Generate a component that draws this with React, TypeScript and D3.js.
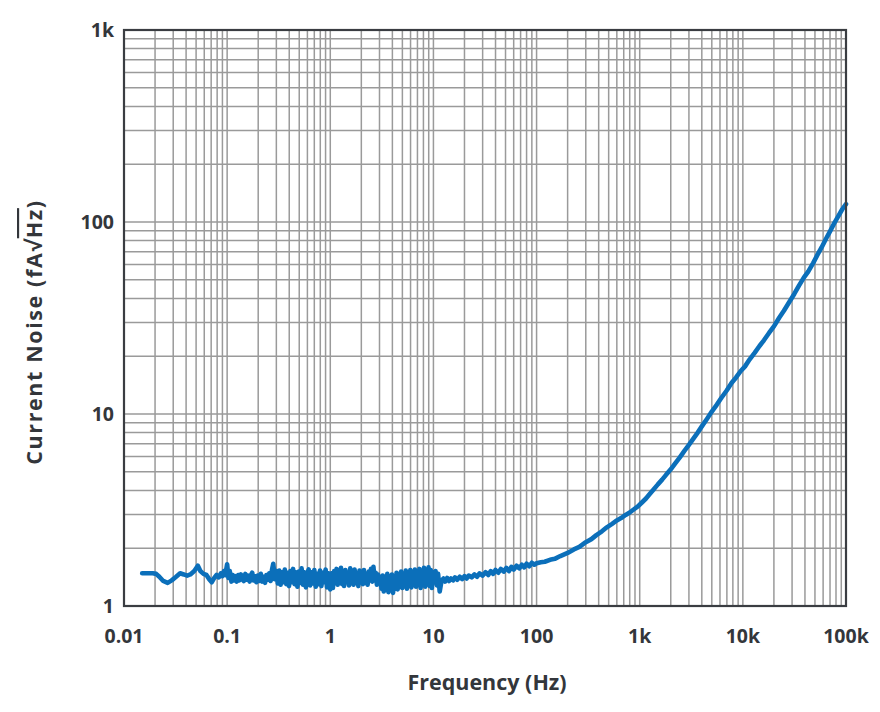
import { useEffect, useRef } from 'react';
import * as d3 from 'd3';

// 0.015 Hz .. 0.1 Hz
const lowFreq = [0.015, 0.017, 0.019, 0.0205, 0.022, 0.024, 0.0265, 0.029, 0.032, 0.035, 0.038, 0.041, 0.044, 0.048, 0.052, 0.055, 0.059, 0.063, 0.067, 0.071, 0.075, 0.079, 0.083, 0.087, 0.09, 0.093, 0.096];
const lowNoise = [1.48, 1.48, 1.48, 1.47, 1.42, 1.35, 1.32, 1.36, 1.42, 1.48, 1.46, 1.44, 1.46, 1.52, 1.62, 1.52, 1.47, 1.45, 1.38, 1.33, 1.40, 1.45, 1.41, 1.48, 1.43, 1.52, 1.45];

// 0.1 Hz .. 1 Hz
const decade1Freq = [0.1, 0.103, 0.106, 0.11, 0.113, 0.117, 0.12, 0.124, 0.128, 0.132, 0.136, 0.14, 0.145, 0.15, 0.155, 0.16, 0.165, 0.17, 0.175, 0.18, 0.186, 0.192, 0.198, 0.205, 0.212, 0.219, 0.226, 0.233, 0.24, 0.248, 0.256, 0.264, 0.272, 0.28, 0.29, 0.3, 0.31, 0.32, 0.33, 0.34, 0.35, 0.362, 0.374, 0.386, 0.398, 0.41, 0.423, 0.436, 0.45, 0.465, 0.48, 0.495, 0.51, 0.527, 0.544, 0.562, 0.58, 0.598, 0.617, 0.637, 0.657, 0.678, 0.7, 0.723, 0.746, 0.77, 0.795, 0.82, 0.846, 0.873, 0.901, 0.93, 0.96, 0.99];
const decade1Noise = [1.65, 1.4, 1.52, 1.34, 1.45, 1.36, 1.43, 1.34, 1.45, 1.36, 1.46, 1.38, 1.35, 1.47, 1.37, 1.44, 1.34, 1.45, 1.49, 1.36, 1.43, 1.33, 1.44, 1.35, 1.47, 1.34, 1.42, 1.32, 1.45, 1.37, 1.48, 1.35, 1.54, 1.66, 1.38, 1.52, 1.31, 1.53, 1.29, 1.5, 1.33, 1.55, 1.3, 1.49, 1.27, 1.52, 1.33, 1.56, 1.3, 1.5, 1.26, 1.51, 1.32, 1.57, 1.29, 1.5, 1.25, 1.47, 1.55, 1.28, 1.5, 1.31, 1.54, 1.26, 1.47, 1.3, 1.53, 1.27, 1.49, 1.33, 1.55, 1.25, 1.48, 1.29];

// 1 Hz .. 10 Hz
const decade2Freq = [1.0, 1.03, 1.06, 1.09, 1.12, 1.15, 1.18, 1.21, 1.24, 1.27, 1.3, 1.33, 1.36, 1.4, 1.44, 1.48, 1.52, 1.56, 1.6, 1.64, 1.68, 1.72, 1.77, 1.82, 1.87, 1.92, 1.97, 2.02, 2.07, 2.12, 2.18, 2.24, 2.3, 2.36, 2.42, 2.48, 2.55, 2.62, 2.69, 2.76, 2.83, 2.9, 2.98, 3.06, 3.14, 3.22, 3.3, 3.39, 3.48, 3.57, 3.66, 3.76, 3.86, 3.96, 4.06, 4.17, 4.28, 4.39, 4.5, 4.62, 4.74, 4.86, 4.99, 5.12, 5.25, 5.39, 5.53, 5.67, 5.82, 5.97, 6.12, 6.28, 6.44, 6.61, 6.78, 6.96, 7.14, 7.32, 7.51, 7.7, 7.9, 8.1, 8.31, 8.52, 8.74, 8.96, 9.19, 9.42, 9.66, 9.9];
const decade2Noise = [1.22, 1.48, 1.24, 1.52, 1.32, 1.56, 1.29, 1.5, 1.34, 1.58, 1.3, 1.51, 1.27, 1.54, 1.33, 1.49, 1.28, 1.57, 1.35, 1.52, 1.29, 1.55, 1.32, 1.48, 1.27, 1.53, 1.34, 1.5, 1.3, 1.54, 1.32, 1.47, 1.29, 1.51, 1.36, 1.56, 1.34, 1.6, 1.36, 1.49, 1.29, 1.46, 1.31, 1.42, 1.23, 1.44, 1.19, 1.42, 1.22, 1.47, 1.18, 1.4, 1.21, 1.46, 1.17, 1.42, 1.23, 1.49, 1.22, 1.44, 1.26, 1.51, 1.24, 1.47, 1.28, 1.53, 1.23, 1.48, 1.3, 1.54, 1.25, 1.5, 1.29, 1.55, 1.26, 1.49, 1.31, 1.56, 1.24, 1.51, 1.29, 1.58, 1.26, 1.53, 1.32, 1.59, 1.27, 1.54, 1.24, 1.5];

// 10 Hz .. 100 Hz
const decade3Freq = [10.2, 10.5, 10.8, 11.1, 11.5, 12, 12.5, 13, 13.6, 14.2, 14.8, 15.5, 16.2, 17, 18, 19, 20, 21, 22, 23.5, 25, 26.5, 28, 30, 32, 34, 36, 38, 40, 42.5, 45, 48, 51, 54, 57, 60, 64, 68, 72, 76, 80, 85, 90, 95];
const decade3Noise = [1.33, 1.52, 1.28, 1.47, 1.19, 1.36, 1.39, 1.34, 1.4, 1.35, 1.39, 1.36, 1.41, 1.37, 1.42, 1.38, 1.43, 1.39, 1.44, 1.41, 1.46, 1.42, 1.48, 1.44, 1.5, 1.45, 1.52, 1.47, 1.54, 1.49, 1.56, 1.51, 1.58, 1.52, 1.6, 1.55, 1.62, 1.57, 1.64, 1.59, 1.66, 1.61, 1.68, 1.64];

// 100 Hz .. 100 kHz
const riseFreq = [100, 110, 120, 135, 150, 170, 200, 230, 260, 300, 340, 380, 430, 480, 540, 600, 660, 730, 800, 880, 960, 1050, 1150, 1250, 1350, 1500, 1650, 1800, 2000, 2200, 2450, 2700, 3000, 3300, 3650, 4000, 4500, 5000, 5600, 6200, 7000, 7800, 8600, 9500, 10500, 11600, 13000, 14500, 16000, 18000, 20000, 22500, 25000, 28000, 31500, 35000, 39000, 43000, 48000, 53000, 58000, 64000, 70000, 77000, 84000, 92000, 100000];
const riseNoise = [1.67, 1.69, 1.7, 1.74, 1.76, 1.82, 1.89, 1.97, 2.03, 2.15, 2.23, 2.34, 2.45, 2.57, 2.68, 2.79, 2.87, 2.98, 3.07, 3.19, 3.3, 3.46, 3.63, 3.83, 4.02, 4.3, 4.55, 4.82, 5.15, 5.52, 5.95, 6.4, 6.9, 7.42, 8.0, 8.62, 9.45, 10.3, 11.2, 12.15, 13.3, 14.55, 15.5, 16.7, 17.7, 19.2, 20.8, 22.6, 24.2, 26.5, 28.6, 31.7, 34.5, 38.1, 42.2, 46.6, 51.3, 55.2, 61.1, 67.6, 73.7, 81.8, 89.4, 98.6, 107, 116.5, 124];

const xTicks = [0.01, 0.1, 1, 10, 100, 1000, 10000, 100000];
const xTickLabels = ['0.01', '0.1', '1', '10', '100', '1k', '10k', '100k'];
const yTicks = [1, 10, 100, 1000];
const yTickLabels = ['1', '10', '100', '1k'];

const FONT = '"Open Sans", Inter, sans-serif';
const TEXT_COLOR = '#33363b';

export default function App() {
  const svgRef = useRef<SVGSVGElement>(null);

  useEffect(() => {
    if (!svgRef.current) return;
    const svg = d3.select(svgRef.current);
    svg.selectAll('*').remove();

    const margin = { top: 30, right: 34, bottom: 106, left: 124 };
    const width = 880;
    const height = 712;
    const innerWidth = width - margin.left - margin.right;
    const innerHeight = height - margin.top - margin.bottom;

    const x = d3.scaleLog().domain([0.01, 100000]).range([0, innerWidth]);
    const y = d3.scaleLog().domain([1, 1000]).range([innerHeight, 0]);

    const data: [number, number][] = [
      ...lowFreq.map((f, i) => [f, lowNoise[i]] as [number, number]),
      ...decade1Freq.map((f, i) => [f, decade1Noise[i]] as [number, number]),
      ...decade2Freq.map((f, i) => [f, decade2Noise[i]] as [number, number]),
      ...decade3Freq.map((f, i) => [f, decade3Noise[i]] as [number, number]),
      ...riseFreq.map((f, i) => [f, riseNoise[i]] as [number, number]),
    ];

    const g = svg.append('g').attr('transform', `translate(${margin.left},${margin.top})`);

    // grid: 1..9 per decade
    const xGrid: number[] = [];
    for (let d = -2; d < 5; d++) for (let m = 1; m < 10; m++) xGrid.push(m * Math.pow(10, d));
    const yGrid: number[] = [];
    for (let d = 0; d < 3; d++) for (let m = 1; m < 10; m++) yGrid.push(m * Math.pow(10, d));

    g.selectAll('.xgrid')
      .data(xGrid)
      .enter()
      .append('line')
      .attr('x1', (d) => x(d))
      .attr('x2', (d) => x(d))
      .attr('y1', 0)
      .attr('y2', innerHeight)
      .attr('stroke', '#9a9a9a')
      .attr('stroke-width', 1.5);

    g.selectAll('.ygrid')
      .data(yGrid)
      .enter()
      .append('line')
      .attr('x1', 0)
      .attr('x2', innerWidth)
      .attr('y1', (d) => y(d))
      .attr('y2', (d) => y(d))
      .attr('stroke', '#9a9a9a')
      .attr('stroke-width', 1.5);

    const line = d3
      .line<[number, number]>()
      .x((d) => x(d[0]))
      .y((d) => y(d[1]));

    g.append('path')
      .datum(data)
      .attr('d', line)
      .attr('fill', 'none')
      .attr('stroke', '#0b6fba')
      .attr('stroke-width', 4.6)
      .attr('stroke-linejoin', 'round')
      .attr('stroke-linecap', 'round');

    g.append('rect')
      .attr('width', innerWidth)
      .attr('height', innerHeight)
      .attr('fill', 'none')
      .attr('stroke', '#3a3d42')
      .attr('stroke-width', 2.2);

    g.selectAll('.xlabel')
      .data(xTicks)
      .enter()
      .append('text')
      .attr('x', (d) => x(d))
      .attr('y', innerHeight + 37)
      .attr('text-anchor', 'middle')
      .style('font-family', FONT)
      .style('font-weight', 700)
      .style('font-size', '19.5px')
      .style('fill', TEXT_COLOR)
      .text((d, i) => xTickLabels[i]);

    g.selectAll('.ylabel')
      .data(yTicks)
      .enter()
      .append('text')
      .attr('x', -10)
      .attr('y', (d) => y(d))
      .attr('dy', '0.36em')
      .attr('text-anchor', 'end')
      .style('font-family', FONT)
      .style('font-weight', 700)
      .style('font-size', '19.5px')
      .style('fill', TEXT_COLOR)
      .text((d, i) => yTickLabels[i]);

    svg
      .append('text')
      .attr('x', margin.left + innerWidth / 2 + 2)
      .attr('y', 690)
      .attr('text-anchor', 'middle')
      .style('font-family', FONT)
      .style('font-weight', 700)
      .style('font-size', '21.5px')
      .style('fill', TEXT_COLOR)
      .text('Frequency (Hz)');

    const yTitle = svg
      .append('text')
      .attr('transform', `translate(42,332) rotate(-90)`)
      .attr('text-anchor', 'middle')
      .style('font-family', FONT)
      .style('font-weight', 700)
      .style('font-size', '21.5px')
      .style('letter-spacing', '1.6px')
      .style('fill', TEXT_COLOR);
    yTitle.append('tspan').text('Current Noise (fA√');
    yTitle.append('tspan').style('text-decoration', 'overline').text('Hz');
    yTitle.append('tspan').text(')');
  }, []);

  return (
    <svg
      ref={svgRef}
      width={880}
      height={712}
      style={{ position: 'absolute', left: 0, top: 0, background: '#fff' }}
    />
  );
}
